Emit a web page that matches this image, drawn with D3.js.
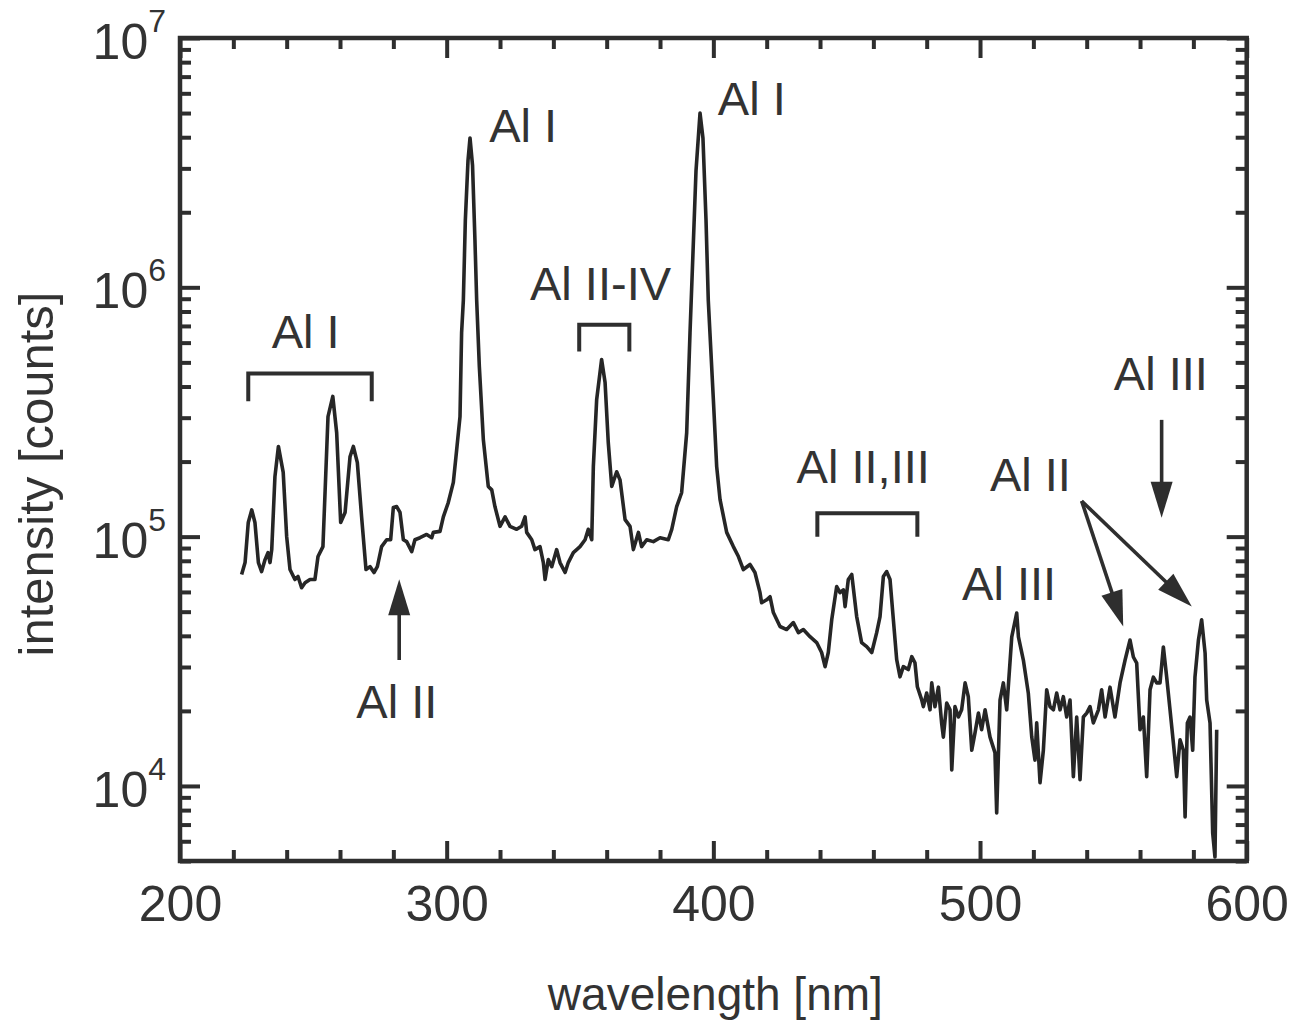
<!DOCTYPE html>
<html>
<head>
<meta charset="utf-8">
<script src="https://cdn.jsdelivr.net/npm/d3@7"></script>
<style>
  html, body { margin: 0; padding: 0; background: #fff; }
  svg { display: block; }
  text { font-family: "Liberation Sans", Arial, Helvetica, sans-serif; fill: #333; }
</style>
</head>
<body>
<svg id="chart" width="1291" height="1021"></svg>
<script>
// Emission spectrum of an aluminium plasma: wavelength [nm] and intensity [counts]
const wavelength = [
  223.1, 224.4, 225.6, 226.9, 228.1, 229.4, 230.6, 231.9, 233.0, 233.75,
  234.4, 235.6, 236.9, 238.7, 240.0, 241.25, 243.1, 244.25, 245.6, 246.9,
  248.75, 250.6, 251.75, 253.6, 255.5, 257.3, 258.75, 260.25, 261.9, 263.75,
  265.0, 266.5, 268.1, 269.75, 271.25, 272.75, 274.0, 275.6, 277.5, 279.0,
  280.0, 281.25, 282.5, 283.75, 285.0, 286.9, 288.1, 290.0, 292.5, 294.4,
  295.0, 297.5, 298.75, 300.6, 302.5, 303.75, 305.0, 305.6, 306.25, 307.0,
  308.0, 308.75, 309.7, 310.6, 311.25, 312.25, 313.75, 315.6, 316.9, 318.1,
  320.0, 321.9, 323.75, 326.25, 328.1, 329.4, 330.0, 331.9, 333.1, 335.0,
  336.25, 336.9, 338.1, 339.4, 341.25, 342.5, 344.4, 345.6, 347.5, 350.0,
  351.9, 353.1, 354.4, 355.0, 356.25, 358.1, 359.4, 360.6, 361.9, 363.75,
  365.0, 366.9, 368.75, 370.0, 371.9, 373.1, 375.0, 377.5, 380.0, 383.1,
  384.4, 386.25, 388.1, 390.0, 391.25, 392.4, 393.5, 395.0, 396.1, 397.25,
  398.1, 400.0, 401.25, 402.5, 405.0, 407.5, 409.4, 411.25, 413.75, 415.6,
  417.5, 418.1, 420.0, 421.25, 422.5, 425.0, 427.5, 430.0, 431.9, 433.75,
  436.25, 438.75, 440.6, 441.9, 443.1, 444.4, 446.25, 447.5, 448.75, 449.4,
  450.6, 451.9, 453.75, 455.6, 457.5, 459.4, 461.25, 462.5, 463.75, 465.0,
  466.25, 467.5, 468.75, 470.0, 471.25, 473.1, 474.4, 475.6, 476.5, 478.1,
  478.75, 480.0, 481.25, 481.9, 483.1, 484.4, 485.6, 486.25, 487.5, 488.75,
  489.4, 490.6, 491.9, 493.1, 494.4, 495.6, 496.9, 498.1, 499.4, 500.6,
  501.9, 503.75, 505.6, 506.25, 507.5, 508.75, 510.0, 511.9, 513.75, 514.4,
  516.25, 518.1, 519.4, 520.6, 521.25, 522.5, 523.75, 525.0, 526.25, 527.5,
  528.75, 530.0, 531.25, 532.5, 533.75, 535.0, 536.25, 537.5, 538.75, 540.0,
  541.25, 542.5, 544.4, 545.6, 546.9, 548.75, 550.6, 552.5, 554.4, 556.25,
  557.5, 558.75, 560.0, 561.25, 562.5, 563.75, 565.0, 566.25, 567.5, 568.75,
  570.0, 571.25, 572.5, 573.75, 575.0, 576.25, 576.9, 577.75, 578.75, 579.75,
  580.6, 581.9, 583.1, 584.4, 585.0, 586.25, 587.25, 588.1, 588.75
];
const counts = [
  7.05e4, 7.87e4, 1.14e5, 1.28e5, 1.14e5, 7.87e4, 7.24e4, 8.09e4, 8.63e4, 7.87e4,
  8.87e4, 1.74e5, 2.30e5, 1.81e5, 1.00e5, 7.38e4, 6.73e4, 6.92e4, 6.24e4, 6.53e4,
  6.73e4, 6.73e4, 8.32e4, 9.12e4, 3.03e5, 3.65e5, 2.61e5, 1.14e5, 1.25e5, 2.09e5,
  2.30e5, 1.98e5, 1.20e5, 7.38e4, 7.58e4, 7.18e4, 7.58e4, 9.12e4, 9.72e4, 9.72e4,
  1.31e5, 1.32e5, 1.25e5, 9.72e4, 9.55e4, 8.71e4, 9.72e4, 9.90e4, 1.02e5, 9.90e4,
  1.04e5, 1.05e5, 1.20e5, 1.37e5, 1.65e5, 2.23e5, 3.03e5, 6.58e5, 8.87e5, 1.86e6,
  3.23e6, 3.97e6, 3.08e6, 1.55e6, 8.87e5, 4.81e5, 2.45e5, 1.59e5, 1.54e5, 1.32e5,
  1.10e5, 1.20e5, 1.10e5, 1.07e5, 1.10e5, 1.20e5, 1.04e5, 9.72e4, 8.87e4, 9.12e4,
  7.87e4, 6.73e4, 8.09e4, 7.58e4, 8.87e4, 7.87e4, 7.18e4, 7.87e4, 8.63e4, 9.12e4,
  9.72e4, 1.07e5, 9.72e4, 1.91e5, 3.55e5, 5.13e5, 4.15e5, 2.38e5, 1.59e5, 1.82e5,
  1.69e5, 1.17e5, 1.10e5, 8.87e4, 1.04e5, 9.12e4, 9.72e4, 9.55e4, 9.90e4, 9.72e4,
  1.07e5, 1.32e5, 1.50e5, 2.61e5, 6.58e5, 1.41e6, 2.94e6, 5.00e6, 3.97e6, 1.86e6,
  8.87e5, 3.55e5, 1.91e5, 1.41e5, 1.04e5, 9.12e4, 8.32e4, 7.38e4, 7.73e4, 7.18e4,
  5.96e4, 5.43e4, 5.58e4, 5.74e4, 4.96e4, 4.36e4, 4.24e4, 4.52e4, 4.12e4, 4.24e4,
  3.97e4, 3.76e4, 3.43e4, 3.01e4, 3.43e4, 4.65e4, 6.31e4, 5.96e4, 6.12e4, 5.24e4,
  6.73e4, 7.05e4, 4.78e4, 3.76e4, 3.62e4, 3.43e4, 4.12e4, 4.78e4, 6.92e4, 7.24e4,
  6.73e4, 4.65e4, 3.21e4, 2.74e4, 3.01e4, 2.93e4, 3.30e4, 3.12e4, 2.50e4, 2.22e4,
  2.08e4, 2.36e4, 2.02e4, 2.59e4, 2.08e4, 2.49e4, 1.79e4, 1.57e4, 2.15e4, 2.02e4,
  1.16e4, 2.08e4, 1.89e4, 2.02e4, 2.59e4, 2.28e4, 1.39e4, 1.63e4, 1.96e4, 1.68e4,
  2.02e4, 1.57e4, 1.36e4, 7.80e3, 2.21e4, 2.59e4, 2.02e4, 3.96e4, 4.94e4, 3.96e4,
  3.20e4, 2.36e4, 1.57e4, 1.27e4, 1.79e4, 1.03e4, 1.39e4, 2.43e4, 2.08e4, 2.02e4,
  2.36e4, 2.02e4, 2.28e4, 1.89e4, 2.21e4, 1.09e4, 1.89e4, 1.06e4, 1.89e4, 1.96e4,
  2.08e4, 1.79e4, 2.02e4, 2.43e4, 1.89e4, 2.49e4, 1.89e4, 2.59e4, 3.20e4, 3.85e4,
  3.29e4, 3.11e4, 1.68e4, 1.89e4, 1.09e4, 2.43e4, 2.73e4, 2.59e4, 2.59e4, 3.61e4,
  2.73e4, 2.02e4, 1.49e4, 1.09e4, 1.53e4, 1.39e4, 7.51e3, 1.79e4, 1.89e4, 1.39e4,
  2.73e4, 3.85e4, 4.64e4, 3.41e4, 2.21e4, 1.79e4, 6.47e3, 5.19e3, 1.68e4
];

// Axis ticks
const xMajorTicks = [200, 300, 400, 500, 600];
const xMinorTicks = [220, 240, 260, 280, 320, 340, 360, 380, 420, 440, 460, 480, 520, 540, 560, 580];
const yMajorTicks = [1e4, 1e5, 1e6, 1e7];
const yTickExponents = ["4", "5", "6", "7"];
const yMinorTicks = [
  5e3, 6e3, 7e3, 8e3, 9e3,
  2e4, 3e4, 4e4, 5e4, 6e4, 7e4, 8e4, 9e4,
  2e5, 3e5, 4e5, 5e5, 6e5, 7e5, 8e5, 9e5,
  2e6, 3e6, 4e6, 5e6, 6e6, 7e6, 8e6, 9e6
];

// Line assignments (text anchored in data space)
const lineLabels = [
  { text: "Al I",      nm: 247.1, counts: 5.73e5 },
  { text: "Al I",      nm: 328.7, counts: 3.83e6 },
  { text: "Al I",      nm: 414.4, counts: 4.90e6 },
  { text: "Al II-IV",  nm: 357.7, counts: 8.87e5 },
  { text: "Al II,III", nm: 456.2, counts: 1.64e5 },
  { text: "Al III",    nm: 510.9, counts: 5.57e4 },
  { text: "Al II",     nm: 518.9, counts: 1.52e5 },
  { text: "Al III",    nm: 567.8, counts: 3.89e5 },
  { text: "Al II",     nm: 281.3, counts: 1.87e4 }
];
const brackets = [
  { from: 225.6, to: 271.9, top: 4.51e5, foot: 3.49e5 },
  { from: 349.7, to: 368.5, top: 7.08e5, foot: 5.53e5 },
  { from: 439.0, to: 476.5, top: 1.24e5, foot: 1.00e5 }
];
const arrows = [
  { fromNm: 282.2, fromCounts: 3.20e4, toNm: 282.2, toCounts: 6.74e4 },
  { fromNm: 568.1, fromCounts: 2.94e5, toNm: 568.1, toCounts: 1.19e5 },
  { fromNm: 538.1, fromCounts: 1.39e5, toNm: 553.7, toCounts: 4.36e4 },
  { fromNm: 538.1, fromCounts: 1.39e5, toNm: 579.4, toCounts: 5.24e4 }
];

const ink = "#2e2e2e";
const svg = d3.select("#chart");

const x = d3.scaleLinear().domain([200, 600]).range([180, 1246.7]);
const y = d3.scaleLog().domain([5000, 1e7]).range([861, 38]);

const [x0, x1] = x.range();
const [yb, yt] = y.range();

// Spectrum
const spectrum = d3.range(wavelength.length).map(i => [wavelength[i], counts[i]]);
svg.append("path")
  .datum(spectrum)
  .attr("fill", "none")
  .attr("stroke", "#262626")
  .attr("stroke-width", 3.6)
  .attr("stroke-linejoin", "round")
  .attr("d", d3.line().x(d => x(d[0])).y(d => y(d[1])));

// Ticks on all four sides, pointing inward
function tickLayer(axis, transform) {
  const g = svg.append("g").attr("transform", transform).call(axis);
  g.select(".domain").remove();
  g.selectAll(".tick line").attr("stroke", ink).attr("stroke-width", 4);
  return g;
}
const majorLen = 20, minorLen = 11;

const bottomMajor = tickLayer(
  d3.axisBottom(x).tickValues(xMajorTicks).tickSize(-majorLen).tickPadding(24).tickFormat(d3.format("d")),
  `translate(0,${yb})`);
bottomMajor.attr("font-family", null).attr("font-size", null);
bottomMajor.selectAll(".tick text")
  .attr("font-size", 50).style("fill", "#333");
tickLayer(d3.axisBottom(x).tickValues(xMinorTicks).tickSize(-minorLen).tickFormat(""), `translate(0,${yb})`);
tickLayer(d3.axisTop(x).tickValues(xMajorTicks).tickSize(-majorLen).tickFormat(""), `translate(0,${yt})`);
tickLayer(d3.axisTop(x).tickValues(xMinorTicks).tickSize(-minorLen).tickFormat(""), `translate(0,${yt})`);

tickLayer(d3.axisLeft(y).tickValues(yMajorTicks).tickSize(-majorLen).tickFormat(""), `translate(${x0},0)`);
tickLayer(d3.axisLeft(y).tickValues(yMinorTicks).tickSize(-minorLen).tickFormat(""), `translate(${x0},0)`);
tickLayer(d3.axisRight(y).tickValues(yMajorTicks).tickSize(-majorLen).tickFormat(""), `translate(${x1},0)`);
tickLayer(d3.axisRight(y).tickValues(yMinorTicks).tickSize(-minorLen).tickFormat(""), `translate(${x1},0)`);

// Power-of-ten labels on the intensity axis
const yLabels = svg.append("g");
yMajorTicks.forEach((v, i) => {
  const t = yLabels.append("text")
    .attr("x", x0 - 14)
    .attr("y", y(v) + 21)
    .attr("text-anchor", "end")
    .attr("font-size", 50)
    .text("10");
  t.append("tspan")
    .attr("dy", -27)
    .attr("font-size", 32)
    .text(yTickExponents[i]);
});

// Frame
svg.append("rect")
  .attr("x", x0).attr("y", yt)
  .attr("width", x1 - x0).attr("height", yb - yt)
  .attr("fill", "none")
  .attr("stroke", ink)
  .attr("stroke-width", 4.5);

// Axis titles
svg.append("text")
  .attr("x", (x0 + x1) / 2 + 2)
  .attr("y", 1010)
  .attr("text-anchor", "middle")
  .attr("font-size", 46)
  .text("wavelength [nm]");
svg.append("text")
  .attr("transform", "translate(53,474) rotate(-90)")
  .attr("text-anchor", "middle")
  .attr("font-size", 49)
  .text("intensity [counts]");

// Brackets grouping lines of one species
svg.append("g").selectAll("path")
  .data(brackets)
  .join("path")
  .attr("fill", "none")
  .attr("stroke", ink)
  .attr("stroke-width", 4)
  .attr("stroke-linejoin", "miter")
  .attr("d", b => `M${x(b.from)},${y(b.foot)}V${y(b.top)}H${x(b.to)}V${y(b.foot)}`);

// Arrows pointing to individual lines
const headLen = 36, headHalf = 11;
const arrowG = svg.append("g");
arrows.forEach(a => {
  const sx = x(a.fromNm), sy = y(a.fromCounts);
  const tx = x(a.toNm), ty = y(a.toCounts);
  const len = Math.hypot(tx - sx, ty - sy);
  const ux = (tx - sx) / len, uy = (ty - sy) / len;
  const bx = tx - ux * headLen, by = ty - uy * headLen;
  arrowG.append("line")
    .attr("x1", sx).attr("y1", sy)
    .attr("x2", bx + ux * 4).attr("y2", by + uy * 4)
    .attr("stroke", ink).attr("stroke-width", 3.6);
  arrowG.append("path")
    .attr("fill", ink)
    .attr("d", `M${tx},${ty}L${bx - uy * headHalf},${by + ux * headHalf}L${bx + uy * headHalf},${by - ux * headHalf}Z`);
});

// Species labels
svg.append("g").selectAll("text")
  .data(lineLabels)
  .join("text")
  .attr("x", d => x(d.nm))
  .attr("y", d => y(d.counts))
  .attr("text-anchor", "middle")
  .attr("font-size", 47)
  .text(d => d.text);
</script>
</body>
</html>
